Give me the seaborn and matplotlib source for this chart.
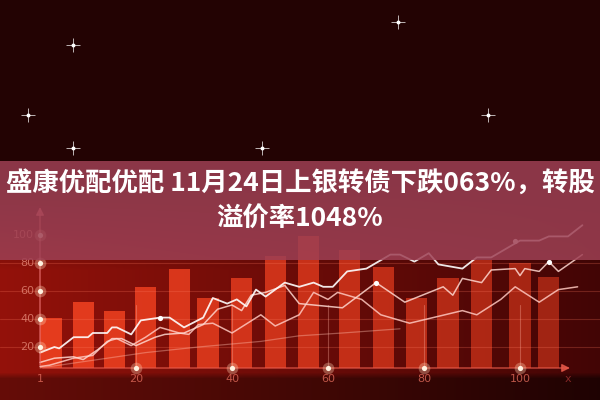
import numpy as np
import pandas as pd
import matplotlib
matplotlib.use("Agg")
import matplotlib.pyplot as plt
import seaborn as sns

# --- data ---
title_1 = "盛康优配优配 11月24日上银转债下跌063%，转股"
title_2 = "溢价率1048%"

x_ticks = [0, 20, 40, 60, 80, 100]
x_labels = ["1", "20", "40", "60", "80", "100"]
y_ticks = [20, 40, 60, 80, 100]
y_labels = ["20", "40", "60", "80", "100"]

bar_x = [2.3, 9, 15.6, 22, 29, 35, 42, 49, 56, 64.5, 71.5, 78.5, 85, 92, 100, 106]
bar_top = [41, 52, 46, 63, 76, 55, 69, 85, 99, 89, 77, 55, 69, 82, 80, 70]

line_a_x = [0, 3, 4, 7, 10, 11, 14, 15, 16, 19, 21, 25, 27, 30, 34, 36, 39, 41, 43, 45,
            47, 51, 54, 57, 59, 61, 64, 68, 73, 75, 78, 81, 83, 88, 91, 94, 100, 104,
            106, 110, 113]
line_a_y = [16, 20, 19, 27, 27, 30, 30, 34, 34, 29, 39, 41, 41, 34, 41, 55, 51, 54, 49, 61,
            56, 66, 63, 66, 63, 63, 74, 76, 86, 86, 81, 87, 79, 76, 84, 84, 96, 96,
            99, 99, 107]

line_b_x = [0, 3, 7, 9, 12, 15, 17, 20, 24, 26, 30, 34, 37, 40, 42, 44, 47, 51, 54, 63,
            70, 76, 84, 86, 88, 92, 94, 99, 100, 101, 104, 106, 108, 113]
line_b_y = [9, 12, 13, 11, 18, 26, 26, 21, 27, 29, 30, 36, 47, 50, 46, 57, 59, 64, 51, 48,
            66, 52, 63, 57, 69, 66, 75, 76, 71, 76, 74, 81, 74, 86]

line_c_x = [0, 2, 7, 11, 14, 16, 19, 22, 25, 29, 31, 33, 36, 40, 46, 49, 54, 57, 60, 62,
            67, 71, 77, 88, 91, 96, 99, 104, 108, 112]
line_c_y = [6, 7, 12, 14, 24, 26, 21, 27, 34, 30, 29, 36, 37, 30, 43, 35, 43, 59, 54, 59,
            54, 43, 37, 46, 43, 54, 63, 52, 61, 63]

line_d_x = [0, 10, 22, 33, 46, 54, 63, 75]
line_d_y = [5, 10, 16, 20, 24, 28, 30, 33]

dot_x = [25, 70, 99, 106]
dot_y = [41, 66, 96, 81]

star_x = [-2.5, 6.9, 6.9, 46.3, 74.6, 93.3]
star_y = [186, 236, 162, 162, 252, 186]

# --- figure ---
sns.set_theme(style="white")
plt.rcParams['font.family'] = ['Noto Sans CJK SC', 'DejaVu Sans']

fig = plt.figure(figsize=(6, 4), dpi=100)
ax = fig.add_axes([0, 0, 1, 1])
x0, x1 = -40 / 4.8, 560 / 4.8
y0, y1 = -25 / 1.4, 375 / 1.4
ax.set_xlim(x0, x1)
ax.set_ylim(y0, y1)
ax.axis("off")

# background glow
H, W = 400, 600
yy, xx = np.mgrid[0:H, 0:W]
fx = xx / W
top = np.array([0.14, 0.015, 0.012])
red_l = np.array([0.58, 0.07, 0.04])
red_r = np.array([0.26, 0.02, 0.02])
low_l = np.array([0.40, 0.05, 0.03])
low_r = np.array([0.12, 0.01, 0.01])
red = red_l[None, None, :] * (1 - fx[..., None]) + red_r[None, None, :] * fx[..., None]
low = low_l[None, None, :] * (1 - fx[..., None]) + low_r[None, None, :] * fx[..., None]
w = np.clip((yy - 180) / 90, 0, 1)[..., None]
img = top[None, None, :] * (1 - w) + red * w
wl = np.clip((yy - 372) / 6, 0, 1)[..., None]
img = img * (1 - wl) + low * wl
ax.imshow(img, extent=(x0, x1, y0, y1), aspect="auto", zorder=0)

# bars
base = 5
for i, (bx, bt) in enumerate(zip(bar_x, bar_top)):
    a = 1.0 - 0.45 * bx / 110
    ax.bar(bx, bt - base, bottom=base, width=4.4, color="#e63c1e", alpha=a,
           zorder=1, linewidth=0)

# grid lines
for yt in y_ticks[:-1]:
    ax.axhline(yt, color="#ff7a60", alpha=0.25, lw=0.8, zorder=1.5)

# drop lines
for xt in x_ticks[1:]:
    ax.plot([xt, xt], [base, 50], color="#ffb0a0", alpha=0.35, lw=0.8, zorder=1.6)

# lines
sns.lineplot(x=line_d_x, y=line_d_y, ax=ax, sort=False, color="#ffc0b0", lw=0.9, alpha=0.4, zorder=2)
sns.lineplot(x=line_c_x, y=line_c_y, ax=ax, sort=False, color="#ffc8c0", lw=1.1, alpha=0.85, zorder=2)
sns.lineplot(x=line_b_x, y=line_b_y, ax=ax, sort=False, color="#ffd8d0", lw=1.1, alpha=0.85, zorder=2)
sns.lineplot(x=line_a_x, y=line_a_y, ax=ax, sort=False, color="white", lw=1.3, alpha=0.9, zorder=2)
ax.scatter(dot_x, dot_y, s=14, color="white", zorder=3, linewidths=0)

# axes with arrows
ax.annotate("", xy=(0, 122), xytext=(0, base), zorder=3,
            arrowprops=dict(arrowstyle="-|>", color="#e87070", lw=1.0, alpha=0.8))
ax.annotate("", xy=(111, base), xytext=(0, base), zorder=3,
            arrowprops=dict(arrowstyle="-|>", color="#e85a4a", lw=1.0, alpha=0.8))

# glowing tick dots
ax.scatter([0] * len(y_ticks), y_ticks, s=70, color="#ffd0b0", alpha=0.35, zorder=3, linewidths=0)
ax.scatter([0] * len(y_ticks), y_ticks, s=14, color="#fff2e0", zorder=3, linewidths=0)
ax.scatter(x_ticks[1:], [base] * 5, s=70, color="#ffd0b0", alpha=0.35, zorder=3, linewidths=0)
ax.scatter(x_ticks[1:], [base] * 5, s=14, color="#fff2e0", zorder=3, linewidths=0)

for yt, lab in zip(y_ticks, y_labels):
    ax.text(-1.2, yt, lab, ha="right", va="center", fontsize=8, color="#e08070",
            alpha=0.85, zorder=3, family=["DejaVu Sans"])
for xt, lab in zip(x_ticks, x_labels):
    ax.text(xt, base - 8, lab, ha="center", va="center", fontsize=8, color="#e06a5a",
            alpha=0.8, zorder=3, family=["DejaVu Sans"])
ax.text(110, base - 8, "x", ha="center", va="center", fontsize=8, color="#a03030",
        alpha=0.8, zorder=3, family=["DejaVu Sans"])

# sparkles
ax.scatter(star_x, star_y, s=90, marker="+", color="white", alpha=0.7, linewidths=0.7, zorder=3)
ax.scatter(star_x, star_y, s=8, color="white", zorder=3, linewidths=0)

# title band
ax.axhspan((375 - 260) / 1.4, (375 - 161) / 1.4, color=(0.62, 0.25, 0.33), alpha=0.85,
           zorder=4, lw=0)

fig.text(0.5, 1 - 183 / 400, title_1, ha="center", va="center", fontsize=19,
         fontweight="bold", color="white", zorder=5)
fig.text(0.5, 1 - 219 / 400, title_2, ha="center", va="center", fontsize=19,
         fontweight="bold", color="white", zorder=5)

fig.savefig("out.png", dpi=100)
